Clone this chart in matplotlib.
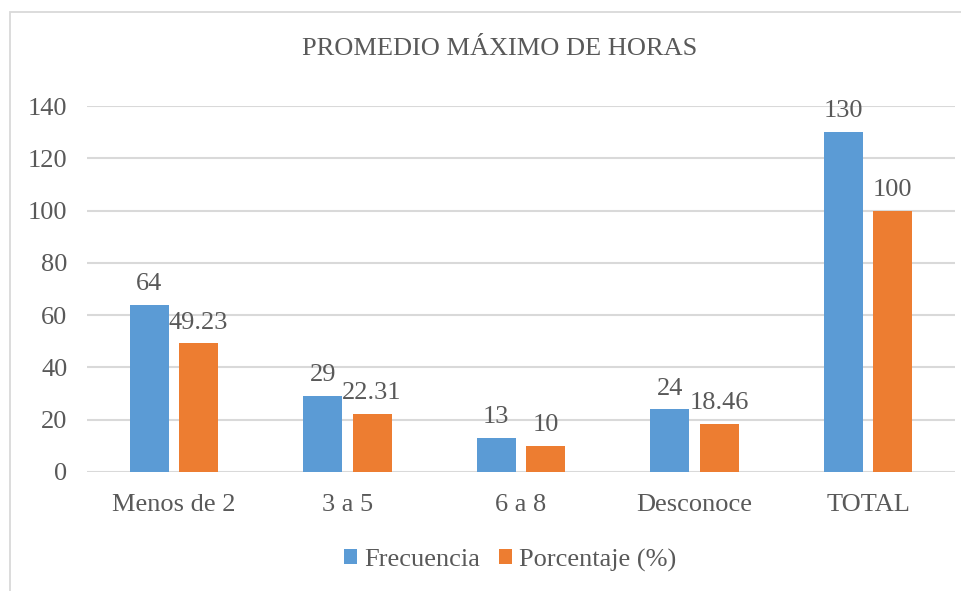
import numpy as np
import matplotlib.pyplot as plt
from matplotlib.patches import Rectangle

# Datos
categorias = ["Menos de 2", "3 a 5", "6 a 8", "Desconoce", "TOTAL"]
frecuencia = [64, 29, 13, 24, 130]
porcentaje = [49.23, 22.31, 10, 18.46, 100]
etiquetas_pct = ["49.23", "22.31", "10", "18.46", "100"]
ticks_y = [0, 20, 40, 60, 80, 100, 120, 140]

azul = "#5B9BD5"
naranja = "#ED7D31"
gris = "#595959"

plt.rcParams['font.family'] = ['Liberation Serif', 'DejaVu Serif']

fig = plt.figure(figsize=(9.61, 5.91), dpi=100)
ax = fig.add_axes([87 / 961, 1 - 472 / 591, 868 / 961, 366 / 591])

# Borde del área del gráfico
fig.patches.append(Rectangle((10 / 961, -0.1), 1.5, 1.1 - 12 / 591,
                             transform=fig.transFigure, fill=False,
                             edgecolor="#D9D9D9", linewidth=1.3))

x = np.arange(len(categorias))
w = 0.225
b1 = ax.bar(x - 0.142, frecuencia, w, color=azul, label="Frecuencia", zorder=3)
b2 = ax.bar(x + 0.142, porcentaje, w, color=naranja, label="Porcentaje (%)", zorder=3)

ax.bar_label(b1, labels=[str(v) for v in frecuencia], padding=7, fontsize=19, color=gris)
ax.bar_label(b2, labels=etiquetas_pct, padding=7, fontsize=19, color=gris)

ax.set_xlim(-0.5, len(categorias) - 0.5)
ax.set_ylim(0, 140)
ax.set_yticks(ticks_y)
ax.set_xticks(x)
ax.set_xticklabels(categorias)
ax.tick_params(axis="x", length=0, pad=16, labelsize=19, labelcolor=gris)
ax.tick_params(axis="y", length=0, pad=14, labelsize=19, labelcolor=gris)

ax.grid(axis="y", color="#D9D9D9", linewidth=1.5, zorder=0)
for s in ax.spines.values():
    s.set_visible(False)

fig.text(500 / 961, 1 - 49 / 591, "PROMEDIO MÁXIMO DE HORAS", ha="center", va="center",
         fontsize=19, color=gris)

fig.legend(handles=[b1, b2], loc="center", bbox_to_anchor=(510 / 961, 1 - 560 / 591),
           ncol=2, frameon=False, fontsize=19, labelcolor=gris,
           handlelength=0.5, handleheight=0.5, handletextpad=0.26, columnspacing=0.7)

fig.savefig("out.png", dpi=100)
